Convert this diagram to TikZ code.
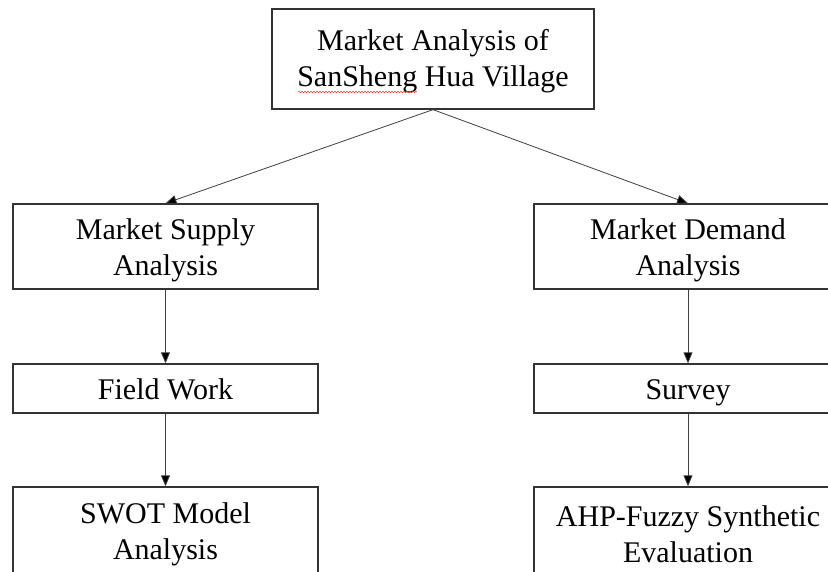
\documentclass[tikz,border=0pt]{standalone}
\usepackage{fontspec}
\setmainfont{Liberation Serif}
\usetikzlibrary{arrows.meta,decorations.pathmorphing}
\newcommand{\topstrut}[1]{\rule{0pt}{#1}}
\begin{document}
\begin{tikzpicture}[x=1pt,y=-1pt,
  box/.style={draw=black!80, line width=1.3pt, align=center, inner sep=0pt,
    font=\fontsize{30}{36}\selectfont, text=black},
  onebox/.style={box, text height=24.5pt, text depth=3.5pt},
  link/.style={draw=black!75, line width=0.8pt,
    -{Triangle[length=11pt,width=9pt,fill=black]}},
  squiggle/.style={draw=red!80, line width=0.6pt,
    decorate, decoration={snake, amplitude=0.7pt, segment length=3pt}}]
\useasboundingbox (0,0) rectangle (828,571);
\fill[white] (0,0) rectangle (828,571);
\clip (0,0) rectangle (828,571);
\node[box, minimum width=322pt, minimum height=100pt] (top) at (433,59)
  {\topstrut{26pt}Market Analysis of\\SanSheng Hua Village};
\node[box, minimum width=305pt, minimum height=85pt] (supply) at (165.5,246.5)
  {\topstrut{29pt}Market Supply\\Analysis};
\node[box, minimum width=308pt, minimum height=85pt] (demand) at (688,246.5)
  {\topstrut{29pt}Market Demand\\Analysis};
\node[onebox, minimum width=305pt, minimum height=49pt] (field) at (165.5,388.5)
  {Field Work};
\node[onebox, minimum width=308pt, minimum height=49pt] (survey) at (688,388.5)
  {Survey};
\node[box, minimum width=305pt, minimum height=86pt] (swot) at (165.5,530)
  {\topstrut{29pt}SWOT Model\\Analysis};
\node[box, minimum width=308pt, minimum height=86pt] (ahp) at (688,530)
  {\topstrut{29pt}AHP-Fuzzy Synthetic\\Evaluation};
\draw[link] (top.south) -- (supply.north);
\draw[link] (top.south) -- (demand.north);
\draw[link] (supply.south) -- (field.north);
\draw[link] (field.south) -- (swot.north);
\draw[link] (demand.south) -- (survey.north);
\draw[link] (survey.south) -- (ahp.north);
\coordinate (sqa) at (298,92);
\coordinate (sqb) at (417,92);
\draw[squiggle] (sqa) -- (sqb);
\end{tikzpicture}
\end{document}
